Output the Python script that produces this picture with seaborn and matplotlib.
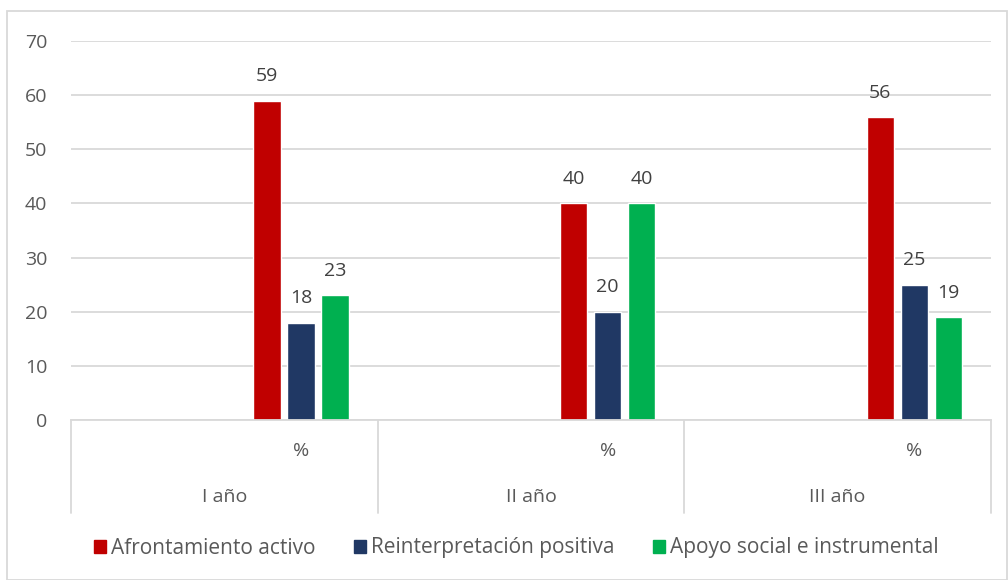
import numpy as np
import pandas as pd
import matplotlib
matplotlib.use("Agg")
import matplotlib.pyplot as plt
import seaborn as sns
from matplotlib.lines import Line2D
from matplotlib.patches import Rectangle

# values
years = ["I año", "II año", "III año"]
subcats = ["", "%"]
series = ["Afrontamiento activo", "Reinterpretación positiva", "Apoyo social e instrumental"]
afrontamiento = [59, 40, 56]
reinterpretacion = [18, 20, 25]
apoyo = [23, 40, 19]
colors = ["#C00000", "#203864", "#00B050"]

rows = []
for i, yr in enumerate(years):
    for sub in subcats:
        key = yr + "|" + sub
        for name, vals in zip(series, [afrontamiento, reinterpretacion, apoyo]):
            rows.append({"pos": key, "serie": name,
                         "valor": vals[i] if sub == "%" else np.nan})
df = pd.DataFrame(rows)
order = [yr + "|" + sub for yr in years for sub in subcats]

sns.set_style("white")
plt.rcParams["font.family"] = ["Open Sans", "DejaVu Sans"]
txt = "#595959"
grid = "#D9D9D9"
fs = 14

fig = plt.figure(figsize=(10.08, 5.8), dpi=100)
ax = fig.add_axes([71 / 1008, 1 - 420 / 580, (991 - 71) / 1008, (420 - 41) / 580])

sns.barplot(data=df, x="pos", y="valor", hue="serie", order=order, hue_order=series,
            palette=colors, width=0.667, gap=0.2, errorbar=None, legend=False,
            saturation=1, ax=ax)

for cont in ax.containers:
    labels = ["" if np.isnan(v) else f"{v:.0f}" for v in cont.datavalues]
    ax.bar_label(cont, labels=labels, padding=11, fontsize=fs, color="#404040")

ax.set_ylim(0, 70)
ax.set_xlim(-0.5, len(order) - 0.5)
ax.set_yticks(range(0, 71, 10))
ax.tick_params(axis="y", labelsize=fs, colors=txt, length=0, pad=17)
ax.set_xticks([])
ax.set_xlabel("")
ax.set_ylabel("")
ax.yaxis.grid(True, color=grid, linewidth=1.3)
ax.set_axisbelow(True)
for s in ["top", "right", "left"]:
    ax.spines[s].set_visible(False)
ax.spines["bottom"].set_color(grid)
ax.spines["bottom"].set_linewidth(1.3)

# multi-level category axis
trans = ax.get_xaxis_transform()
bottom = -(513 - 420) / (420 - 41)
for k in range(len(years) + 1):
    xb = k * len(subcats) - 0.5
    ax.add_line(Line2D([xb, xb], [0, bottom], transform=trans, color=grid,
                       linewidth=1.3, clip_on=False))
for i, yr in enumerate(years):
    for j, sub in enumerate(subcats):
        ax.text(i * len(subcats) + j, -(451 - 420) / 379, sub, transform=trans,
                ha="center", va="center", fontsize=fs, color=txt)
    ax.text(i * len(subcats) + 0.5, -(497 - 420) / 379, yr, transform=trans,
            ha="center", va="center", fontsize=fs, color=txt)

# chart border
fig.patches.append(Rectangle((7 / 1008, 0), 1000 / 1008, 1 - 11 / 580,
                             transform=fig.transFigure, fill=False,
                             edgecolor=grid, linewidth=1.3))

handles = [Rectangle((0, 0), 1, 1, color=c) for c in colors]
fig.legend(handles, series, loc="center", bbox_to_anchor=(0.512, 1 - 548 / 580),
           ncol=3, frameon=False, labelcolor=txt,
           prop={"family": ["Open Sans", "DejaVu Sans"], "size": 15},
           handlelength=0.58, handleheight=0.58, handletextpad=0.24, columnspacing=1.85)

fig.savefig("out.png", dpi=100)
